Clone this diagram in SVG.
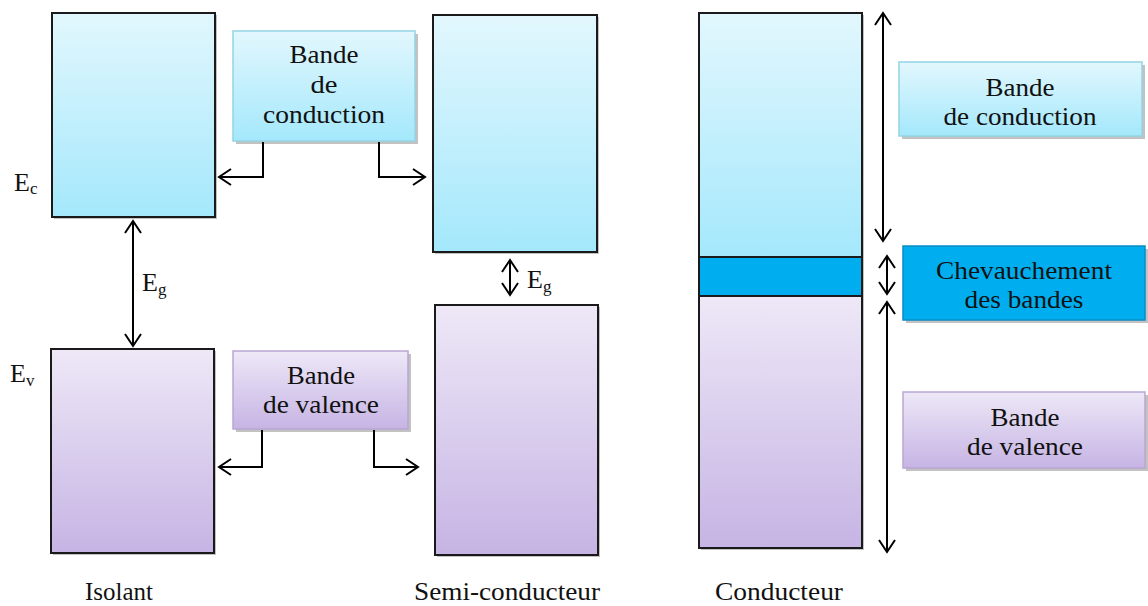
<svg xmlns="http://www.w3.org/2000/svg" width="1148" height="606" viewBox="0 0 1148 606">
  <defs>
    <linearGradient id="gCond" x1="0" y1="0" x2="0" y2="1">
      <stop offset="0" stop-color="#E2F7FD"/>
      <stop offset="1" stop-color="#A4E8FC"/>
    </linearGradient>
    <linearGradient id="gVal" x1="0" y1="0" x2="0" y2="1">
      <stop offset="0" stop-color="#EEE8F7"/>
      <stop offset="1" stop-color="#C6B4E4"/>
    </linearGradient>
    <marker id="arr" viewBox="0 0 16 20" refX="14" refY="10" markerWidth="16" markerHeight="20" markerUnits="userSpaceOnUse" orient="auto-start-reverse">
      <path d="M2,2 L14,10 L2,18" fill="none" stroke="#000" stroke-width="2"/>
    </marker>
  </defs>
  <style>
    .band { stroke: #1a1a1a; stroke-width: 2; }
    .shadow { fill: #9a9a9a; opacity: 0.6; }
    .lblC { fill: url(#gCond); stroke: #94D4E4; stroke-width: 1.5; }
    .lblV { fill: url(#gVal); stroke: #B9A6D4; stroke-width: 1.5; }
    .lblO { fill: #00AEEF; stroke: #0A8CC4; stroke-width: 1.5; }
    text { font-family: "Liberation Serif", "Times New Roman", serif; fill: #111; }
    .t { font-size: 25px; text-anchor: middle; }
    .sym { font-size: 26px; }
    .sub { font-size: 17px; }
    .con { fill: none; stroke: #000; stroke-width: 2; }
  </style>

  <!-- Insulator bands -->
  <g id="isolant-conduction">
    <rect x="54" y="15" width="163" height="204" class="shadow"/>
    <rect x="52" y="13" width="163" height="204" fill="url(#gCond)" class="band"/>
  </g>
  <g id="isolant-valence">
    <rect x="53" y="351" width="163" height="204" class="shadow"/>
    <rect x="51" y="349" width="163" height="204" fill="url(#gVal)" class="band"/>
  </g>

  <!-- Semiconductor bands -->
  <g id="semi-conduction">
    <rect x="435" y="17" width="164" height="237" class="shadow"/>
    <rect x="433" y="15" width="164" height="237" fill="url(#gCond)" class="band"/>
  </g>
  <g id="semi-valence">
    <rect x="437" y="307" width="163" height="250" class="shadow"/>
    <rect x="435" y="305" width="163" height="250" fill="url(#gVal)" class="band"/>
  </g>

  <!-- Conductor bands -->
  <g id="conducteur">
    <rect x="701" y="15" width="163" height="535" class="shadow"/>
    <rect x="699" y="13" width="163" height="244" fill="url(#gCond)" class="band"/>
    <rect x="699" y="296" width="163" height="252" fill="url(#gVal)" class="band"/>
    <rect x="699" y="257" width="163" height="39" fill="#00AEEF" class="band"/>
  </g>

  <!-- Label boxes -->
  <g id="label-conduction">
    <rect x="236" y="34" width="182" height="110" class="shadow"/>
    <rect x="233" y="31" width="182" height="110" class="lblC"/>
    <text class="t" x="324" y="63" textLength="69" lengthAdjust="spacingAndGlyphs">Bande</text>
    <text class="t" x="324" y="93" textLength="27" lengthAdjust="spacingAndGlyphs">de</text>
    <text class="t" x="324" y="123" textLength="122" lengthAdjust="spacingAndGlyphs">conduction</text>
  </g>
  <g id="label-valence">
    <rect x="236" y="354" width="175" height="78" class="shadow"/>
    <rect x="233" y="351" width="175" height="78" class="lblV"/>
    <text class="t" x="321" y="384" textLength="68" lengthAdjust="spacingAndGlyphs">Bande</text>
    <text class="t" x="321" y="413" textLength="116" lengthAdjust="spacingAndGlyphs">de valence</text>
  </g>
  <g id="label-conduction-2">
    <rect x="902" y="65" width="243" height="74" class="shadow"/>
    <rect x="899" y="62" width="243" height="74" class="lblC"/>
    <text class="t" x="1020" y="96" textLength="69" lengthAdjust="spacingAndGlyphs">Bande</text>
    <text class="t" x="1020" y="125" textLength="153" lengthAdjust="spacingAndGlyphs">de conduction</text>
  </g>
  <g id="label-chevauchement">
    <rect x="906" y="249" width="242" height="74" class="shadow"/>
    <rect x="903" y="246" width="242" height="74" class="lblO"/>
    <text class="t" x="1024" y="279" textLength="176" lengthAdjust="spacingAndGlyphs">Chevauchement</text>
    <text class="t" x="1024" y="308" textLength="119" lengthAdjust="spacingAndGlyphs">des bandes</text>
  </g>
  <g id="label-valence-2">
    <rect x="906" y="395" width="242" height="76" class="shadow"/>
    <rect x="903" y="392" width="242" height="76" class="lblV"/>
    <text class="t" x="1025" y="426" textLength="69" lengthAdjust="spacingAndGlyphs">Bande</text>
    <text class="t" x="1025" y="455" textLength="116" lengthAdjust="spacingAndGlyphs">de valence</text>
  </g>

  <!-- Connectors -->
  <g id="connectors">
    <path class="con" d="M263,142 V177 H219" marker-end="url(#arr)"/>
    <path class="con" d="M379,142 V177 H425" marker-end="url(#arr)"/>
    <path class="con" d="M262,430 V467 H219" marker-end="url(#arr)"/>
    <path class="con" d="M374,430 V467 H418" marker-end="url(#arr)"/>
    <line class="con" x1="133" y1="221" x2="133" y2="346" marker-start="url(#arr)" marker-end="url(#arr)"/>
    <line class="con" x1="510" y1="260" x2="510" y2="295" marker-start="url(#arr)" marker-end="url(#arr)"/>
    <line class="con" x1="883" y1="13" x2="883" y2="241" marker-start="url(#arr)" marker-end="url(#arr)"/>
    <line class="con" x1="887" y1="256" x2="887" y2="294" marker-start="url(#arr)" marker-end="url(#arr)"/>
    <line class="con" x1="887" y1="302" x2="887" y2="552" marker-start="url(#arr)" marker-end="url(#arr)"/>
  </g>

  <!-- Energy symbols -->
  <g id="symbols">
    <text class="sym" x="14" y="191">E<tspan class="sub" dy="3">c</tspan></text>
    <text class="sym" x="10" y="382">E<tspan class="sub" dy="4">v</tspan></text>
    <text class="sym" x="142" y="291">E<tspan class="sub" dy="4">g</tspan></text>
    <text class="sym" x="527" y="288">E<tspan class="sub" dy="4">g</tspan></text>
  </g>

  <!-- Material names -->
  <g id="titles">
    <text class="t" x="119" y="600" textLength="68" lengthAdjust="spacingAndGlyphs">Isolant</text>
    <text class="t" x="507" y="600" textLength="186" lengthAdjust="spacingAndGlyphs">Semi-conducteur</text>
    <text class="t" x="779" y="600" textLength="128" lengthAdjust="spacingAndGlyphs">Conducteur</text>
  </g>
</svg>
